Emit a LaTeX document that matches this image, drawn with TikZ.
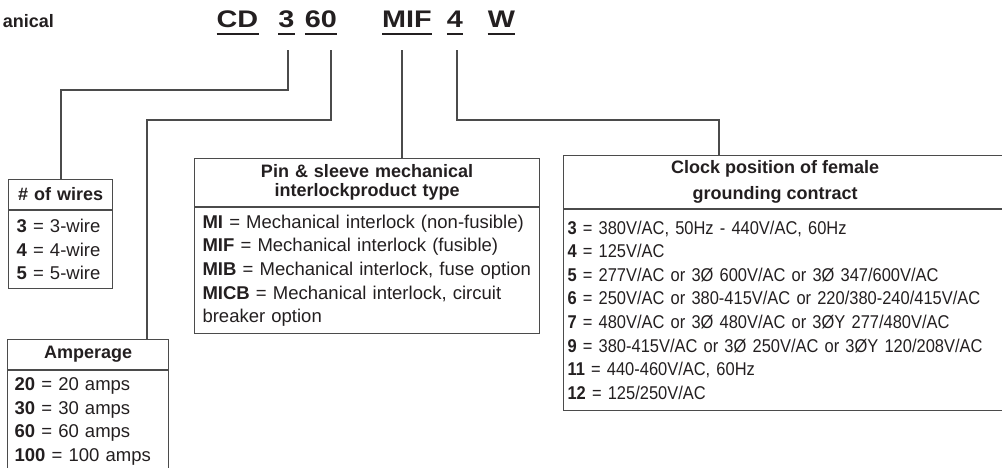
\documentclass[tikz,border=0pt]{standalone}
\usepackage{fontspec}
\setmainfont{Liberation Sans}
\newfontfamily\codefont{Liberation Sans}[FakeStretch=1.2]
\newfontfamily\voltfont{Liberation Sans}[FakeStretch=0.89]
\usepackage{xcolor}
\usetikzlibrary{positioning, calc}
\definecolor{InkDark}{RGB}{35,31,32}
\definecolor{RuleGray}{RGB}{75,75,75}

\begin{document}
\begin{tikzpicture}[x=1pt,y=-1pt,
        code/.style={font=\codefont\fontsize{24}{24}\selectfont\bfseries,text=InkDark,
                     inner sep=0pt,anchor=base},
        uline/.style={InkDark,line width=2.6pt},
        link/.style={draw=RuleGray,line width=1.1pt},
        hdr/.style={draw=RuleGray,line width=1.1pt,anchor=north west,inner sep=0pt,
                    align=center,text=InkDark,
                    font=\fontsize{18}{19}\selectfont\bfseries},
        hdrtxt/.style={inner sep=0pt,align=center,text=InkDark,
                    font=\fontsize{18}{26}\selectfont\bfseries},
        body/.style={draw=RuleGray,line width=1.1pt,anchor=north west,inner ysep=0pt,
                     align=left,text=InkDark,font=\fontsize{18.5}{23.6}\selectfont}
      ]
        \useasboundingbox (0,0) rectangle (1002,467);
        \node[code,font=\fontsize{18}{18}\selectfont\bfseries,anchor=base east]
          (head) at (54,27) {anical};
        \foreach \name/\txt/\x in {cd/CD/237.5, c3/3/286.5, c60/60/321,
                                   mif/MIF/407, c4/4/455, w/W/501.5}{
          \node[code] (\name) at (\x,27) {\txt};
          \draw[uline] ([yshift=-7pt]\name.base west) -- ([yshift=-7pt]\name.base east);
        }
        % option boxes
        \node[hdr,text width=104pt,minimum height=30pt] (wires) at (8,179) {\# of wires};
        \node[body,text width=88pt,inner xsep=8pt,minimum height=78pt]
          (wiresb) at (wires.south west)
          {\textbf{3} = 3-wire\\\textbf{4} = 4-wire\\\textbf{5} = 5-wire};
        \node[hdr,text width=161pt,minimum height=30pt] (amps) at (7,339) {Amperage};
        \node[body,text width=147pt,inner xsep=7pt,minimum height=102pt]
          (ampsb) at (amps.south west)
          {\textbf{20} = 20 amps\\\textbf{30} = 30 amps\\
           \textbf{60} = 60 amps\\\textbf{100} = 100 amps};
        \node[hdr,text width=345pt,minimum height=48pt] (pin) at (194,158)
          {Pin \& sleeve mechanical\\interlockproduct type};
        \node[body,text width=329pt,inner xsep=8pt,minimum height=126pt]
          (pinb) at (pin.south west)
          {\textbf{MI} = Mechanical interlock (non-fusible)\\
           \textbf{MIF} = Mechanical interlock (fusible)\\
           \textbf{MIB} = Mechanical interlock, fuse option\\
           \textbf{MICB} = Mechanical interlock, circuit\\
           breaker option};
        \node[hdr,text width=447pt,minimum height=53pt] (clock) at (563,155) {};
        \node[hdrtxt] (clockt) at ([xshift=-12pt]clock.center)
          {Clock position of female\\grounding contract};
        \node[body,text width=439pt,inner xsep=4pt,minimum height=201pt,
              font=\voltfont\fontsize{18.5}{23.6}\selectfont]
          (clockb) at (clock.south west)
          {\textbf{3} = 380V/AC, 50Hz - 440V/AC, 60Hz\\
           \textbf{4} = 125V/AC\\
           \textbf{5} = 277V/AC or 3Ø 600V/AC or 3Ø 347/600V/AC\\
           \textbf{6} = 250V/AC or 380-415V/AC or 220/380-240/415V/AC\\
           \textbf{7} = 480V/AC or 3Ø 480V/AC or 3ØY 277/480V/AC\\
           \textbf{9} = 380-415V/AC or 3Ø 250V/AC or 3ØY~120/208V/AC\\
           \textbf{11} = 440-460V/AC, 60Hz\\
           \textbf{12} = 125/250V/AC};
        % leads from the code
        \coordinate (l3) at (288,50);
        \coordinate (k3) at (61,90);
        \coordinate (l60) at (331,50);
        \coordinate (k60) at (147,120);
        \coordinate (lmif) at (402,50);
        \coordinate (l4) at (457,50);
        \coordinate (k4) at (719,120);
        \draw[link] (l3) |- (k3) -- (k3 |- wires.north);
        \draw[link] (l60) |- (k60) -- (k60 |- amps.north);
        \draw[link] (lmif) -- (lmif |- pin.north);
        \draw[link] (l4) |- (k4) -- (k4 |- clock.north);
      \end{tikzpicture}
\end{document}
